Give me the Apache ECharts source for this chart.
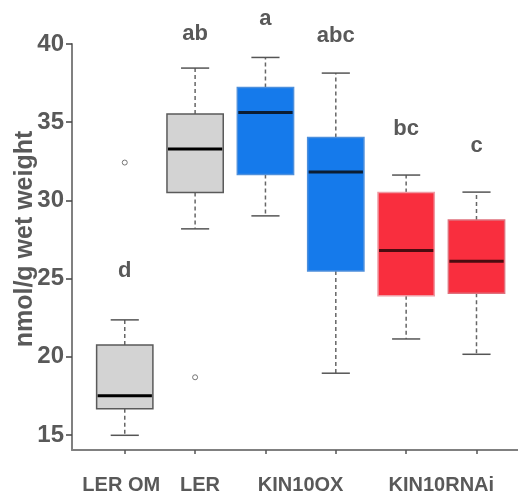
<!DOCTYPE html>
<html>
<head>
<meta charset="utf-8">
<script src="https://cdn.jsdelivr.net/npm/echarts@6/dist/echarts.min.js"></script>
<style>html,body{margin:0;padding:0;background:#fff;}#c{width:518px;height:494px;}</style>
</head>
<body>
<div id="c"></div>
<script>
// ---- data ----
const groups = ['LER OM', 'LER', 'KIN10OX', 'KIN10OX', 'KIN10RNAi', 'KIN10RNAi'];
const whiskerMin = [14.98, 28.18, 29.01, 18.95, 21.14, 20.16];
const quartile1  = [16.68, 30.50, 31.65, 25.49, 23.91, 24.07];
const medians    = [17.51, 33.28, 35.62, 31.81, 26.79, 26.11];
const quartile3  = [20.76, 35.52, 37.22, 34.02, 30.50, 28.74];
const whiskerMax = [22.36, 38.46, 39.14, 38.14, 31.62, 30.53];
const outliers   = [[0, 32.42], [1, 18.69]];
const letters    = ['d', 'ab', 'a', 'abc', 'bc', 'c'];
const letterBase = [24.99, 40.16, 41.10, 40.02, 34.05, 33.02];
const axisLabels = ['LER OM', 'LER', 'KIN10OX', 'KIN10RNAi'];
const axisLabelPos = [-0.05, 1.07, 2.5, 4.5];
const yTicks = [15, 20, 25, 30, 35, 40];
const yTitle = 'nmol/g wet weight';

// ---- styles ----
const fills   = ['#d3d3d3', '#d3d3d3', '#157aeb', '#157aeb', '#f92e3e', '#f92e3e'];
const borders = ['#5a5a5a', '#5a5a5a', '#4d8fdc', '#4d8fdc', '#f09aa3', '#e0707c'];
const medCol  = ['#000000', '#000000', '#0b1d33', '#0b1d33', '#4a0c10', '#4a0c10'];
const FONT = "'Liberation Sans', Arial, sans-serif";
const TXT = '#595959';

const boxData = groups.map((g, i) => [i, whiskerMin[i], quartile1[i], medians[i], quartile3[i], whiskerMax[i], letterBase[i]]);

const chart = echarts.init(document.getElementById('c'));
chart.setOption({
  animation: false,
  grid: { left: 72, right: 0, top: 44, bottom: 44, outerBoundsMode: 'none' },
  graphic: [{
    type: 'text', x: 25, y: 239, rotation: Math.PI / 2,
    style: { text: yTitle, fontFamily: FONT, fontWeight: 'bold', fontSize: 25, fill: TXT,
             align: 'center', verticalAlign: 'middle' }
  }],
  xAxis: {
    type: 'value', min: -0.75, max: 5.59,
    splitLine: { show: false },
    axisLine: { show: true, onZero: false, lineStyle: { color: '#808080', width: 2 } },
    axisTick: { show: true, customValues: [0, 1, 2, 3, 4, 5], length: 4, lineStyle: { color: '#555', width: 1.5 } },
    axisLabel: {
      customValues: axisLabelPos, margin: 25,
      fontFamily: FONT, fontWeight: 'bold', fontSize: 20, color: TXT,
      formatter: v => {
        let best = 0;
        axisLabelPos.forEach((p, k) => { if (Math.abs(p - v) < Math.abs(axisLabelPos[best] - v)) best = k; });
        return axisLabels[best];
      }
    }
  },
  yAxis: {
    type: 'value', min: 14.04, max: 40, position: 'left',
    splitLine: { show: false },
    axisLine: { show: true, onZero: false, lineStyle: { color: '#808080', width: 2 } },
    axisTick: { show: true, customValues: yTicks, length: 6, lineStyle: { color: '#444', width: 1.5 } },
    axisLabel: { customValues: yTicks, margin: 8, fontFamily: FONT, fontWeight: 'bold', fontSize: 24, color: TXT }
  },
  series: [
    {
      type: 'custom',
      data: boxData,
      renderItem: (params, api) => {
        const i = params.dataIndex;
        const x = api.value(0);
        const cx = api.coord([x, 20])[0];
        const yMin = api.coord([x, api.value(1)])[1];
        const yQ1 = api.coord([x, api.value(2)])[1];
        const yMed = api.coord([x, api.value(3)])[1];
        const yQ3 = api.coord([x, api.value(4)])[1];
        const yMax = api.coord([x, api.value(5)])[1];
        const yLet = api.coord([x, api.value(6)])[1];
        const w = api.size([0.8, 0])[0];
        const capW = w / 2;
        const dash = { stroke: '#666', lineWidth: 1.5, lineDash: [4, 3] };
        const cap = { stroke: '#555', lineWidth: 1.5 };
        return {
          type: 'group',
          children: [
            { type: 'line', shape: { x1: cx, y1: yQ3, x2: cx, y2: yMax }, style: dash },
            { type: 'line', shape: { x1: cx, y1: yQ1, x2: cx, y2: yMin }, style: dash },
            { type: 'line', shape: { x1: cx - capW / 2, y1: yMax, x2: cx + capW / 2, y2: yMax }, style: cap },
            { type: 'line', shape: { x1: cx - capW / 2, y1: yMin, x2: cx + capW / 2, y2: yMin }, style: cap },
            { type: 'rect', shape: { x: cx - w / 2, y: yQ3, width: w, height: yQ1 - yQ3 },
              style: { fill: fills[i], stroke: borders[i], lineWidth: 1.5 } },
            { type: 'line', shape: { x1: cx - w / 2 + 1, y1: yMed, x2: cx + w / 2 - 1, y2: yMed },
              style: { stroke: medCol[i], lineWidth: 3 } },
            { type: 'text', x: cx, y: yLet - 0.35 * 22,
              style: { text: letters[i], fontFamily: FONT, fontWeight: 'bold', fontSize: 22,
                       fill: TXT, align: 'center', verticalAlign: 'middle' } }
          ]
        };
      }
    },
    {
      type: 'scatter',
      data: outliers,
      symbol: 'circle', symbolSize: 5,
      itemStyle: { color: '#fff', borderColor: '#555', borderWidth: 1 }
    }
  ]
});
</script>
</body>
</html>
